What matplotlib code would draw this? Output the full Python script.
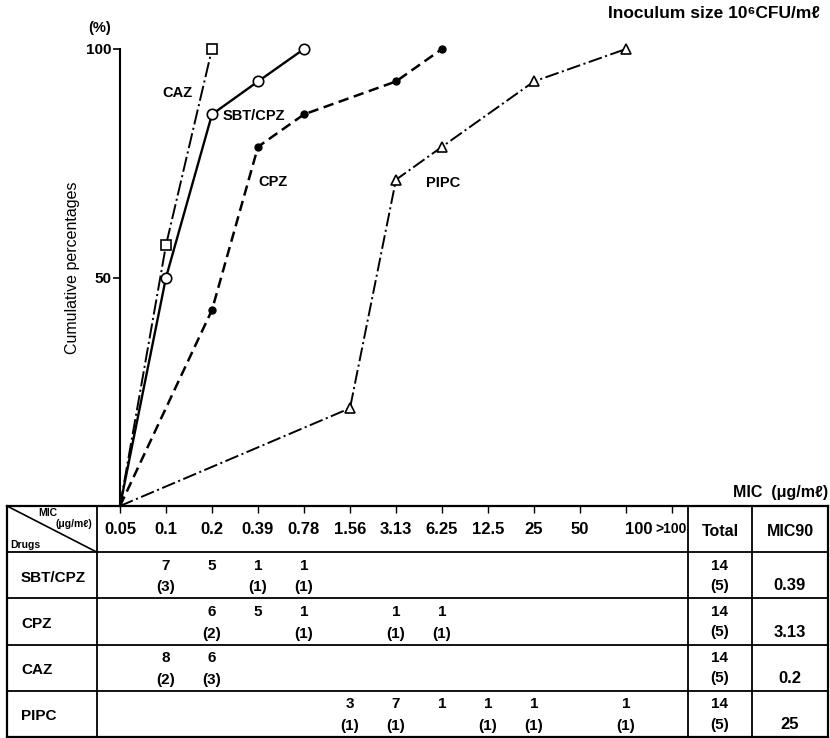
import matplotlib
matplotlib.use("Agg")
import matplotlib.pyplot as plt

plt.rcParams['font.family'] = ['Liberation Sans', 'DejaVu Sans']
plt.rcParams['lines.scale_dashes'] = False

W, H, DPI = 830, 738, 100

# ---------------- data ----------------
mic_labels = ["0.05", "0.1", "0.2", "0.39", "0.78", "1.56", "3.13", "6.25",
              "12.5", "25", "50", "100", ">100"]
mic_index = list(range(len(mic_labels)))

# cumulative percentages (x = MIC column index)
sbt_x = [0, 1, 2, 3, 4]
sbt_y = [0, 50.0, 85.7, 92.9, 100.0]
cpz_x = [0, 2, 3, 4, 6, 7]
cpz_y = [0, 42.9, 78.6, 85.7, 92.9, 100.0]
caz_x = [0, 1, 2]
caz_y = [0, 57.1, 100.0]
pipc_x = [0, 5, 6, 7, 9, 11]
pipc_y = [0, 21.4, 71.4, 78.6, 92.9, 100.0]

drugs = ["SBT/CPZ", "CPZ", "CAZ", "PIPC"]
N = None
sbt_counts = [N, 7, 5, 1, 1, N, N, N, N, N, N, N, N]
sbt_paren = [N, 3, N, 1, 1, N, N, N, N, N, N, N, N]
cpz_counts = [N, N, 6, 5, 1, N, 1, 1, N, N, N, N, N]
cpz_paren = [N, N, 2, N, 1, N, 1, 1, N, N, N, N, N]
caz_counts = [N, 8, 6, N, N, N, N, N, N, N, N, N, N]
caz_paren = [N, 2, 3, N, N, N, N, N, N, N, N, N, N]
pipc_counts = [N, N, N, N, N, 3, 7, 1, 1, 1, N, 1, N]
pipc_paren = [N, N, N, N, N, 1, 1, N, 1, 1, N, 1, N]
totals = [14, 14, 14, 14]
totals_paren = [5, 5, 5, 5]
mic90 = ["0.39", "3.13", "0.2", "25"]

counts = [sbt_counts, cpz_counts, caz_counts, pipc_counts]
parens = [sbt_paren, cpz_paren, caz_paren, pipc_paren]

# ---------------- layout helpers ----------------
def rect(l, t, r, b):
    return [l / W, 1 - b / H, (r - l) / W, (b - t) / H]

def fx(px):
    return px / W

def fy(py):
    return 1 - py / H

fig = plt.figure(figsize=(W / DPI, H / DPI), dpi=DPI)
fig.patch.set_facecolor('white')

STEP = 46.0
X0 = 120.0
ax = fig.add_axes(rect(X0, 49, 688, 506))
ax.set_xlim(0, (688 - X0) / STEP)
ax.set_ylim(0, 100)
for s in ['top', 'right', 'bottom']:
    ax.spines[s].set_visible(False)
ax.spines['left'].set_linewidth(1.5)
ax.set_yticks([50, 100])
ax.set_yticklabels(["50", "100"], fontsize=11, fontweight='bold')
ax.tick_params(axis='y', direction='out', length=5, width=1.2, pad=1)
ax.set_xticks(mic_index)
ax.tick_params(axis='x', direction='out', length=5, width=1.0, labelbottom=False)
ax.patch.set_alpha(0)

# curves
ax.plot(caz_x, caz_y, color='black', lw=1.4, ls=(0, (11, 2.5, 1.5, 2.5)),
        marker='s', ms=6.5, mfc='white', mec='black', mew=1.2,
        markevery=slice(1, None), clip_on=False, zorder=3)
ax.plot(sbt_x, sbt_y, color='black', lw=1.7, ls='-',
        marker='o', ms=7.5, mfc='white', mec='black', mew=1.2,
        markevery=slice(1, None), clip_on=False, zorder=3)
ax.plot(cpz_x, cpz_y, color='black', lw=1.8, ls=(0, (7.5, 4)),
        marker='o', ms=5, mfc='black', mec='black',
        markevery=slice(1, None), clip_on=False, zorder=3)
ax.plot(pipc_x, pipc_y, color='black', lw=1.4, ls=(0, (10, 2.5, 1.5, 2.5)),
        marker='^', ms=7, mfc='white', mec='black', mew=1.2,
        markevery=slice(1, None), clip_on=False, zorder=3)

lab_kw = dict(fontsize=10.5, fontweight='bold', ha='center', va='center')
ax.text(1.24, 90.3, "CAZ", **lab_kw)
ax.text(2.91, 85.3, "SBT/CPZ", **lab_kw)
ax.text(3.33, 71.0, "CPZ", **lab_kw)
ax.text(7.02, 70.6, "PIPC", **lab_kw)

# figure texts
fig.text(fx(100), fy(28), "(%)", fontsize=10.5, fontweight='bold', ha='center', va='center')
fig.text(fx(73), fy(268), "Cumulative percentages", fontsize=11.5, rotation=90,
         ha='center', va='center')
fig.text(fx(820), fy(14), "Inoculum size 10\u2076CFU/m\u2113", fontsize=12.5,
         fontweight='bold', ha='right', va='center')
fig.text(fx(828), fy(493), "MIC  (\u03bcg/m\u2113)", fontsize=11.5,
         fontweight='bold', ha='right', va='center')

# ---------------- table ----------------
tab = fig.add_axes(rect(7, 506, 828, 737))
xl, xr = (7 - X0) / STEP, (828 - X0) / STEP
tab.set_xlim(xl, xr)
tab.set_ylim(5, 0)
tab.axis('off')

x_drug = (97 - X0) / STEP
x_total = (688 - X0) / STEP
x_mic90 = (752 - X0) / STEP
for i in range(6):
    lw = 1.6 if i in (0, 5) else 1.3
    tab.plot([xl, xr], [i, i], color='black', lw=lw, clip_on=False)
for xv in [xl, x_drug, x_total, x_mic90, xr]:
    lw = 1.6 if xv in (xl, xr) else 1.3
    tab.plot([xv, xv], [0, 5], color='black', lw=lw, clip_on=False)
tab.plot([xl, x_drug], [0, 1], color='black', lw=1.2)

tab.text((48 - X0) / STEP, 0.16, "MIC", fontsize=7.5, fontweight='bold', ha='center', va='center')
tab.text((74 - X0) / STEP, 0.39, "(\u03bcg/m\u2113)", fontsize=7.5, fontweight='bold',
         ha='center', va='center')
tab.text((10 - X0) / STEP, 0.84, "Drugs", fontsize=7.5, fontweight='bold', ha='left', va='center')

hdr_kw = dict(fontsize=12, fontweight='bold', va='center')
for i in range(11):
    tab.text(i, 0.5, mic_labels[i], ha='center', **hdr_kw)
tab.text((652 - X0) / STEP, 0.5, mic_labels[11], ha='right', **hdr_kw)
tab.text((655 - X0) / STEP, 0.5, mic_labels[12], ha='left', fontsize=10,
         fontweight='bold', va='center')
xc_total = (x_total + x_mic90) / 2
xc_mic90 = (x_mic90 + xr) / 2
tab.text(xc_total, 0.55, "Total", fontsize=11.5, fontweight='bold', ha='center', va='center')
tab.text(xc_mic90, 0.55, "MIC90", fontsize=11.5, fontweight='bold', ha='center', va='center')

for r, name in enumerate(drugs):
    row = r + 1
    tab.text((21 - X0) / STEP, row + 0.55, name, fontsize=11, fontweight='bold',
             ha='left', va='center')
    for i in mic_index:
        c = counts[r][i]
        p = parens[r][i]
        if c is not None:
            tab.text(i, row + 0.29, str(c), fontsize=11, fontweight='bold',
                     ha='center', va='center')
        if p is not None:
            tab.text(i, row + 0.76, "(%d)" % p, fontsize=11, fontweight='bold',
                     ha='center', va='center')
    tab.text(xc_total, row + 0.29, str(totals[r]), fontsize=11, fontweight='bold',
             ha='center', va='center')
    tab.text(xc_total, row + 0.73, "(%d)" % totals_paren[r], fontsize=11,
             fontweight='bold', ha='center', va='center')
    tab.text(xc_mic90, row + 0.73, mic90[r], fontsize=12, fontweight='bold',
             ha='center', va='center')

fig.savefig("out.png", dpi=DPI, facecolor='white')
